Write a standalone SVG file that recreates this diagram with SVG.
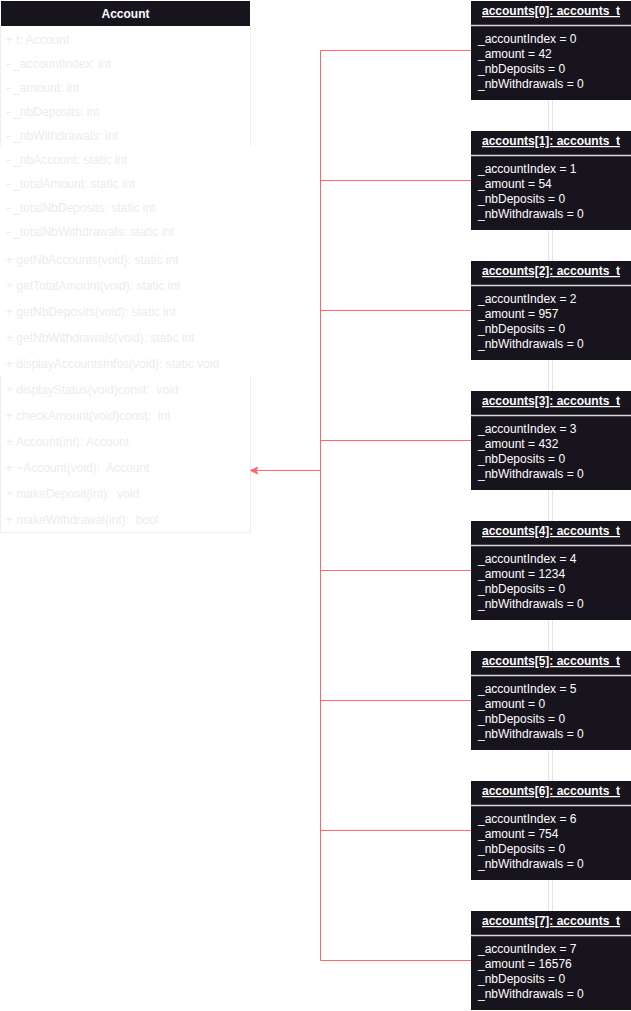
<svg xmlns="http://www.w3.org/2000/svg" width="631" height="1011" viewBox="0 0 631 1011">
<defs>
<style>
.hdr{fill:#18141d}
.t{font-family:"Liberation Sans",Arial,sans-serif;font-size:12px}
.cls{fill:#ececec}
.title{fill:#ffffff;font-weight:bold;text-anchor:middle}
.obj{fill:#ffffff;font-weight:bold;text-anchor:middle;text-decoration:underline}
.attr{fill:#ffffff}
.sep{stroke:#d8d8d8;stroke-width:1.5}
.life{stroke:#e4e4e4;stroke-width:1;fill:none}
.con{stroke:#ff6666;stroke-width:1;fill:none}
.body{fill:none;stroke:#eeeeee;stroke-width:1}
</style>
<marker id="arr" viewBox="0 0 10 10" refX="9" refY="5" markerWidth="8" markerHeight="8" orient="auto-start-reverse" markerUnits="userSpaceOnUse">
<path d="M10,5 L0,0.5 L3,5 L0,9.5 Z" fill="#ff6666" stroke="#ff6666" stroke-width="1"/>
</marker>
</defs>
<rect width="631" height="1011" fill="#ffffff"/>

<g id="lifelines">
<path class="life" d="M548.5,100V131M552.5,100V131M548.5,230V261M552.5,230V261M548.5,360V391M552.5,360V391M548.5,490V521M552.5,490V521M548.5,620V651M552.5,620V651M548.5,750V781M552.5,750V781M548.5,880V911M552.5,880V911"/>
</g>

<g id="Account">
<rect x="1" y="1" width="249" height="25" class="hdr"/>
<text x="125.5" y="18" class="t title">Account</text>
<path class="body" d="M0.5,26V146M250.5,26V146M0.5,376V532.5H250.5V376"/>
<g class="t cls">
<text x="6" y="44">+ t: Account</text>
<text x="6" y="68">- _accountIndex: int</text>
<text x="6" y="92">- _amount: int</text>
<text x="6" y="116">- _nbDeposits: int</text>
<text x="6" y="140">- _nbWithdrawals: int</text>
<text x="6" y="164">- _nbAccount: static int</text>
<text x="6" y="188">- _totalAmount: static int</text>
<text x="6" y="212">- _totalNbDeposits: static int</text>
<text x="6" y="236">- _totalNbWithdrawals: static int</text>
<text x="6" y="264">+ getNbAccounts(void): static int</text>
<text x="6" y="290">+ getTotalAmount(void): static int</text>
<text x="6" y="316">+ getNbDeposits(void): static int</text>
<text x="6" y="342">+ getNbWithdrawals(void): static int</text>
<text x="6" y="368">+ displayAccountsInfos(void): static void</text>
<text x="6" y="394" xml:space="preserve">+ displayStatus(void)const:  void</text>
<text x="6" y="420" xml:space="preserve">+ checkAmount(void)const:  int</text>
<text x="6" y="446">+ Account(int): Account</text>
<text x="6" y="472" xml:space="preserve">+ ~Account(void):  Account</text>
<text x="6" y="498" xml:space="preserve">+ makeDeposit(int):  void</text>
<text x="6" y="524" xml:space="preserve">+ makeWithdrawal(int):  bool</text>
</g>
</g>

<g id="accounts0" transform="translate(471,1)">
<rect width="160" height="99" class="hdr"/><line x1="0" y1="24.5" x2="160" y2="24.5" class="sep"/>
<text x="80" y="14" class="t obj">accounts[0]: accounts_t</text>
<g class="t attr"><text x="7" y="42">_accountIndex = 0</text><text x="7" y="57">_amount = 42</text><text x="7" y="72">_nbDeposits = 0</text><text x="7" y="87">_nbWithdrawals = 0</text></g>
</g>
<g id="accounts1" transform="translate(471,131)">
<rect width="160" height="99" class="hdr"/><line x1="0" y1="24.5" x2="160" y2="24.5" class="sep"/>
<text x="80" y="14" class="t obj">accounts[1]: accounts_t</text>
<g class="t attr"><text x="7" y="42">_accountIndex = 1</text><text x="7" y="57">_amount = 54</text><text x="7" y="72">_nbDeposits = 0</text><text x="7" y="87">_nbWithdrawals = 0</text></g>
</g>
<g id="accounts2" transform="translate(471,261)">
<rect width="160" height="99" class="hdr"/><line x1="0" y1="24.5" x2="160" y2="24.5" class="sep"/>
<text x="80" y="14" class="t obj">accounts[2]: accounts_t</text>
<g class="t attr"><text x="7" y="42">_accountIndex = 2</text><text x="7" y="57">_amount = 957</text><text x="7" y="72">_nbDeposits = 0</text><text x="7" y="87">_nbWithdrawals = 0</text></g>
</g>
<g id="accounts3" transform="translate(471,391)">
<rect width="160" height="99" class="hdr"/><line x1="0" y1="24.5" x2="160" y2="24.5" class="sep"/>
<text x="80" y="14" class="t obj">accounts[3]: accounts_t</text>
<g class="t attr"><text x="7" y="42">_accountIndex = 3</text><text x="7" y="57">_amount = 432</text><text x="7" y="72">_nbDeposits = 0</text><text x="7" y="87">_nbWithdrawals = 0</text></g>
</g>
<g id="accounts4" transform="translate(471,521)">
<rect width="160" height="99" class="hdr"/><line x1="0" y1="24.5" x2="160" y2="24.5" class="sep"/>
<text x="80" y="14" class="t obj">accounts[4]: accounts_t</text>
<g class="t attr"><text x="7" y="42">_accountIndex = 4</text><text x="7" y="57">_amount = 1234</text><text x="7" y="72">_nbDeposits = 0</text><text x="7" y="87">_nbWithdrawals = 0</text></g>
</g>
<g id="accounts5" transform="translate(471,651)">
<rect width="160" height="99" class="hdr"/><line x1="0" y1="24.5" x2="160" y2="24.5" class="sep"/>
<text x="80" y="14" class="t obj">accounts[5]: accounts_t</text>
<g class="t attr"><text x="7" y="42">_accountIndex = 5</text><text x="7" y="57">_amount = 0</text><text x="7" y="72">_nbDeposits = 0</text><text x="7" y="87">_nbWithdrawals = 0</text></g>
</g>
<g id="accounts6" transform="translate(471,781)">
<rect width="160" height="99" class="hdr"/><line x1="0" y1="24.5" x2="160" y2="24.5" class="sep"/>
<text x="80" y="14" class="t obj">accounts[6]: accounts_t</text>
<g class="t attr"><text x="7" y="42">_accountIndex = 6</text><text x="7" y="57">_amount = 754</text><text x="7" y="72">_nbDeposits = 0</text><text x="7" y="87">_nbWithdrawals = 0</text></g>
</g>
<g id="accounts7" transform="translate(471,911)">
<rect width="160" height="99" class="hdr"/><line x1="0" y1="24.5" x2="160" y2="24.5" class="sep"/>
<text x="80" y="14" class="t obj">accounts[7]: accounts_t</text>
<g class="t attr"><text x="7" y="42">_accountIndex = 7</text><text x="7" y="57">_amount = 16576</text><text x="7" y="72">_nbDeposits = 0</text><text x="7" y="87">_nbWithdrawals = 0</text></g>
</g>

<g id="connectors">
<path class="con" d="M471,50.5H320.5V960.5H471M320.5,180.5H471M320.5,310.5H471M320.5,440.5H471M320.5,570.5H471M320.5,700.5H471M320.5,830.5H471"/>
<path class="con" d="M320.5,470.5H251" marker-end="url(#arr)"/>
</g>
</svg>
